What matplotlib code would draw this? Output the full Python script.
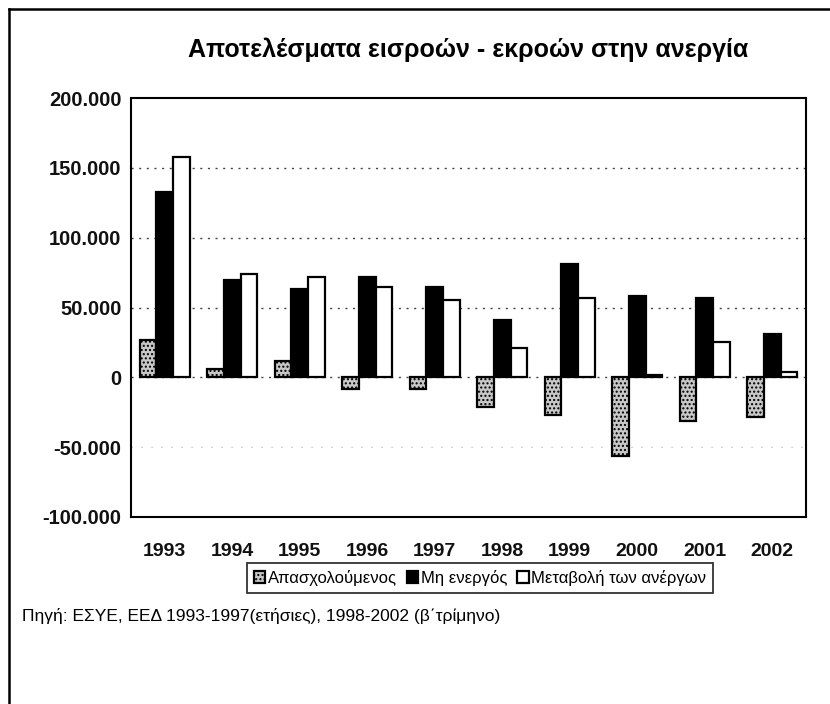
import matplotlib.pyplot as plt
import matplotlib.ticker as mticker
from matplotlib.lines import Line2D
import numpy as np

plt.rcParams['font.family'] = ['Liberation Sans', 'DejaVu Sans']

years = ['1993', '1994', '1995', '1996', '1997', '1998', '1999', '2000', '2001', '2002']
employed = [27000, 6000, 12000, -8000, -8500, -21000, -27000, -56000, -31000, -28500]
inactive = [133000, 69500, 63500, 72000, 65000, 41000, 81000, 58000, 57000, 31000]
change = [158000, 74000, 72000, 65000, 55500, 21000, 57000, 2000, 25000, 4000]

series_names = ['Απασχολούμενος', 'Μη ενεργός', 'Μεταβολή των ανέργων']

fig = plt.figure(figsize=(8.3, 7.04), dpi=100)
ax = fig.add_axes([131 / 830, 1 - 517 / 704, 675 / 830, 419 / 704])

x = np.arange(len(years))
w = 0.245
ax.bar(x - w, employed, w, facecolor='#c8c8c8', edgecolor='black', hatch='....',
       linewidth=1.6, label=series_names[0], zorder=3)
ax.bar(x, inactive, w, facecolor='black', edgecolor='black',
       linewidth=1.6, label=series_names[1], zorder=3)
ax.bar(x + w, change, w, facecolor='white', edgecolor='black',
       linewidth=1.6, label=series_names[2], zorder=3)

ax.set_xlim(-0.5, 9.5)
ax.set_ylim(-100000, 200000)
ax.yaxis.set_major_locator(mticker.MultipleLocator(50000))
ax.yaxis.set_major_formatter(
    mticker.FuncFormatter(lambda v, p: f'{int(v):,}'.replace(',', '.')))
ax.set_xticks(x)
ax.set_xticklabels(years)
ax.tick_params(axis='y', length=0, labelsize=14.5, pad=7)
ax.tick_params(axis='x', length=0, labelsize=14, pad=19)
for lab in ax.get_yticklabels() + ax.get_xticklabels():
    lab.set_fontweight('bold')
    lab.set_color('#111111')

for v in [0, 50000, 100000, 150000]:
    ax.axhline(v, color='#444444', linestyle=(0, (1.5, 4)), linewidth=1.0, zorder=1)
ax.axhline(-50000, color='#aaaaaa', linestyle=(0, (1, 8)), linewidth=0.8, zorder=1)

for s in ax.spines.values():
    s.set_linewidth(1.5)
    s.set_color('black')

fig.text(468 / 830, 1 - 50 / 704, 'Αποτελέσματα εισροών - εκροών στην ανεργία',
         ha='center', va='center', fontsize=18, fontweight='bold')

leg = ax.legend(loc='center', bbox_to_anchor=(480 / 830, 1 - 578 / 704),
                bbox_transform=fig.transFigure, ncol=3, frameon=True,
                fancybox=False, edgecolor='black', fontsize=12,
                handlelength=0.7, handleheight=0.7, handletextpad=0.15,
                columnspacing=0.6, borderpad=0.4, borderaxespad=0)
leg.get_frame().set_linewidth(1.3)

fig.text(22 / 830, 1 - 616 / 704,
         'Πηγή: ΕΣΥΕ, ΕΕΔ 1993-1997(ετήσιες), 1998-2002 (β΄τρίμηνο)',
         ha='left', va='center', fontsize=12.5)

# outer frame: top and left edges
fig.add_artist(Line2D([9 / 830, 1], [1 - 9 / 704, 1 - 9 / 704],
                      transform=fig.transFigure, color='black', linewidth=1.8))
fig.add_artist(Line2D([9 / 830, 9 / 830], [0, 1 - 9 / 704],
                      transform=fig.transFigure, color='black', linewidth=1.8))

fig.savefig('out.png', dpi=100, facecolor='white')
